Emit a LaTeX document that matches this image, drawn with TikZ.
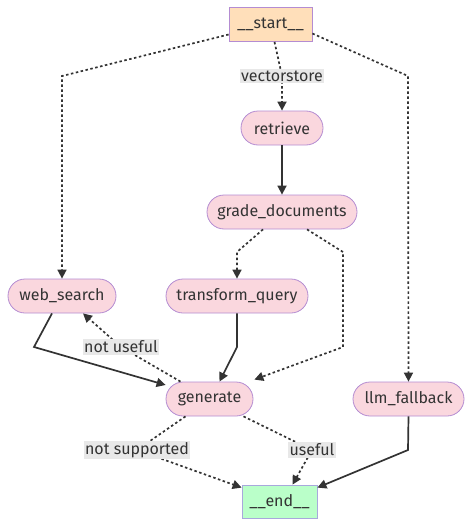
\documentclass[tikz,border=0pt]{standalone}
\usepackage{fontspec}
\setmainfont{Fira Sans}
\usetikzlibrary{arrows.meta}
\definecolor{txt}{HTML}{333333}
\definecolor{pinkfill}{HTML}{FAD7DE}
\definecolor{pinkdraw}{HTML}{B48CD2}
\definecolor{startfill}{HTML}{FFDFBA}
\definecolor{endfill}{HTML}{BAFFC9}
\definecolor{enddraw}{HTML}{A8A8DC}
\definecolor{lblfill}{HTML}{E8E8E8}
\begin{document}
\begin{tikzpicture}[x=1pt,y=-1pt,
  base/.style={line width=0.8pt, minimum height=34pt, inner sep=0pt, text=txt, font=\fontsize{16}{19}\selectfont},
  gnode/.style={base, rounded corners=17pt, fill=pinkfill, draw=pinkdraw},
  startnode/.style={base, fill=startfill, draw=pinkdraw},
  endnode/.style={base, fill=endfill, draw=enddraw},
  lbl/.style={fill=lblfill, text=txt, inner sep=1.5pt, font=\fontsize{16}{19}\selectfont},
  edge/.style={draw=txt, line width=1.7pt, -{Triangle[length=9pt,width=9pt]}},
  dotedge/.style={edge, dash pattern=on 2.5pt off 2.5pt}
]
\useasboundingbox (0,0) rectangle (472,527);
\node[startnode, minimum width=83pt] (start) at (270.5,24.5) {\_\_start\_\_};
\node[gnode, minimum width=82pt] (retrieve) at (282,128) {retrieve};
\node[gnode, minimum width=150pt] (grade) at (282,212) {grade\_documents};
\node[gnode, minimum width=108pt] (web) at (62,296) {web\_search};
\node[gnode, minimum width=142pt] (transform) at (237,296) {transform\_query};
\node[gnode, minimum width=87pt] (generate) at (209.5,399) {generate};
\node[gnode, minimum width=111pt] (llm) at (408.5,399) {llm\_fallback};
\node[endnode, minimum width=75pt, minimum height=33pt] (end) at (279.5,501.5) {\_\_end\_\_};

\coordinate (c1) at (62,76);
\coordinate (vsp) at (282,76);
\coordinate (c2) at (408,76);
\coordinate (c3) at (237,252);
\coordinate (c4) at (343,252);
\coordinate (c5) at (343,347);
\coordinate (c6) at (237,347);
\coordinate (c7) at (34,347);
\coordinate (nup) at (121,347);
\coordinate (nsp) at (137,450);
\coordinate (up) at (312,450);
\coordinate (c8) at (408,450);

\draw[dotedge] ([yshift=-10pt]start.west) -- (c1) -- (web.north);
\draw[dotedge] ([xshift=4pt]start.south) -- (vsp) -- (retrieve.north);
\draw[dotedge] ([yshift=-9pt]start.east) -- (c2) -- (llm.north);
\draw[edge] (retrieve.south) -- (grade.north);
\draw[dotedge] ([xshift=-19pt]grade.south) -- (c3) -- (transform.north);
\draw[dotedge] ([xshift=25pt]grade.south) -- (c4) -- (c5) -- ([xshift=1pt,yshift=2pt]generate.north east);
\draw[edge] (transform.south) -- (c6) -- ([xshift=10pt]generate.north);
\draw[edge] ([xshift=-10pt]web.south) -- (c7) -- ([yshift=14pt]generate.west);
\draw[dotedge] ([xshift=-29pt]generate.north) -- (nup) -- ([xshift=21pt]web.south);
\draw[dotedge] ([xshift=-24pt]generate.south) -- (nsp) -- ([yshift=-3pt]end.north west);
\draw[dotedge] ([xshift=34pt]generate.south) -- (up) -- ([xshift=13pt]end.north);
\draw[edge] (llm.south) -- (c8) -- ([yshift=-3pt]end.north east);

\node[lbl] (vs) at (vsp) {vectorstore};
\node[lbl] (nu) at (nup) {not useful};
\node[lbl] (ns) at (nsp) {not supported};
\node[lbl] (us) at (up) {useful};
\end{tikzpicture}
\end{document}
